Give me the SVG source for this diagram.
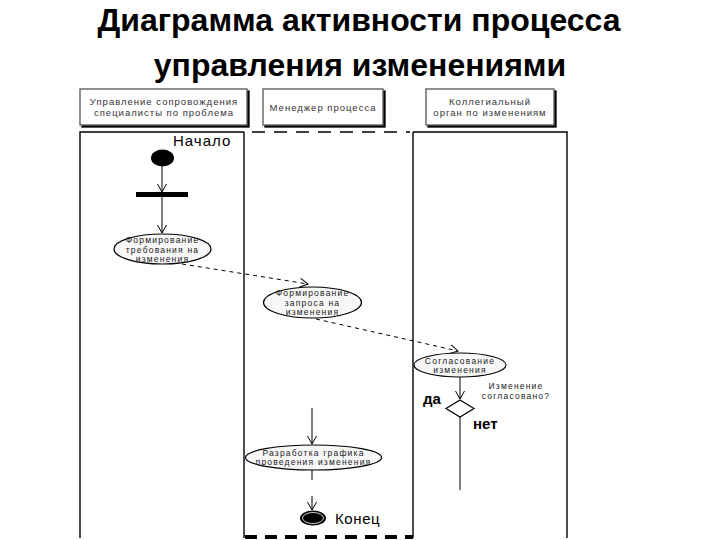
<svg xmlns="http://www.w3.org/2000/svg" width="720" height="540" viewBox="0 0 720 540">
<defs>
<marker id="arr" viewBox="-10 -6 12 12" refX="0" refY="0" markerWidth="12" markerHeight="12" markerUnits="userSpaceOnUse" orient="auto">
<path d="M-8,-4.5 L0,0 L-8,4.5" fill="none" stroke="#000" stroke-width="1"/>
</marker>
<filter id="sh" x="-5%" y="-5%" width="115%" height="125%">
<feOffset dx="1.5" dy="1.5" in="SourceAlpha" result="o"/>
<feGaussianBlur in="o" stdDeviation="0.6" result="b"/>
<feMerge><feMergeNode in="b"/><feMergeNode in="SourceGraphic"/></feMerge>
</filter>
</defs>
<style>
.title{font-family:"Liberation Sans",Arial,sans-serif;font-weight:bold;font-size:32px;fill:#000;text-anchor:middle}
.hdr{font-family:"Liberation Sans",Arial,sans-serif;font-size:9.5px;letter-spacing:1px;fill:#333;text-anchor:middle}
.hbox{fill:#fff;stroke:#555;stroke-width:1.3}
.lane{stroke:#000;stroke-width:1.4;fill:none}
.act{fill:#f7f7f7;stroke:#000;stroke-width:1.2}
.at{font-family:"Liberation Sans",Arial,sans-serif;font-size:8.5px;letter-spacing:1.2px;fill:#222;text-anchor:middle}
.lbl{font-family:"Liberation Sans",Arial,sans-serif;font-size:15px;fill:#000}
.flow{stroke:#000;stroke-width:1;fill:none}
.dash{stroke:#000;stroke-width:1;fill:none;stroke-dasharray:4,4}
</style>
<rect width="720" height="540" fill="#fff"/>
<text class="title" x="359" y="31">Диаграмма активности процесса</text>
<text class="title" x="360" y="76">управления изменениями</text>

<g id="header-1">
<rect class="hbox" x="80" y="89" width="167" height="36" filter="url(#sh)"/>
<text class="hdr" x="164" y="104.5">Управление сопровождения</text>
<text class="hdr" x="164" y="115.5">специалисты по проблема</text>
</g>
<g id="header-2">
<rect class="hbox" x="263" y="89" width="120" height="36" filter="url(#sh)"/>
<text class="hdr" x="323" y="111">Менеджер процесса</text>
</g>
<g id="header-3">
<rect class="hbox" x="426" y="89" width="128" height="36" filter="url(#sh)"/>
<text class="hdr" x="490" y="104.5">Коллегиальный</text>
<text class="hdr" x="490" y="115.5">орган по изменениям</text>
</g>

<g id="lanes">
<path class="lane" d="M80,538 L80,132 L244,132"/>
<path class="lane" d="M252,132 L410,132" stroke-dasharray="13,9"/>
<path class="lane" d="M413,132 L567,132 L567,538"/>
<line class="lane" x1="244" y1="132" x2="244" y2="538"/>
<line class="lane" x1="413" y1="132" x2="413" y2="538" stroke-width="2"/>
<line x1="245" y1="537" x2="413" y2="537" stroke="#000" stroke-width="4" stroke-dasharray="12,8"/>
</g>

<g id="connectors">
<line class="flow" x1="162" y1="166" x2="162" y2="192" marker-end="url(#arr)"/>
<line class="flow" x1="162" y1="197" x2="162" y2="233" marker-end="url(#arr)"/>
<line class="dash" x1="182" y1="264" x2="308" y2="284" marker-end="url(#arr)"/>
<line class="dash" x1="316" y1="319" x2="458" y2="351" marker-end="url(#arr)"/>
<line class="flow" x1="460" y1="377" x2="460" y2="399" marker-end="url(#arr)"/>
<line class="flow" x1="460" y1="417" x2="460" y2="490"/>
<line class="flow" x1="312" y1="408" x2="312" y2="444" marker-end="url(#arr)"/>
<line class="flow" x1="312" y1="470" x2="312" y2="480"/>
<line class="flow" x1="312" y1="496" x2="312" y2="510" marker-end="url(#arr)"/>
</g>

<g id="start">
<ellipse cx="162.5" cy="158" rx="11.5" ry="8.5" fill="#000"/>
<text class="lbl" x="173" y="146" letter-spacing="1">Начало</text>
</g>
<g id="fork">
<rect x="136" y="192" width="52" height="5" fill="#000"/>
</g>
<g id="act-1">
<ellipse class="act" cx="162.5" cy="249" rx="48.5" ry="15"/>
<text class="at" x="162.5" y="243">Формирование</text>
<text class="at" x="162.5" y="252.6">требования на</text>
<text class="at" x="162.5" y="262.2">изменения</text>
</g>
<g id="act-2">
<ellipse class="act" cx="312.5" cy="302.5" rx="49" ry="15.5"/>
<text class="at" x="312.5" y="296">Формирование</text>
<text class="at" x="312.5" y="305.6">запроса на</text>
<text class="at" x="312.5" y="315.2">изменения</text>
</g>
<g id="act-3">
<ellipse class="act" cx="460" cy="365" rx="46" ry="12"/>
<text class="at" x="460" y="363.5">Согласование</text>
<text class="at" x="460" y="373.1">изменения</text>
</g>
<g id="decision">
<polygon points="460,400 474,408.5 460,417 446,408.5" fill="#fff" stroke="#000" stroke-width="1.2"/>
<text class="at" x="516" y="389">Изменение</text>
<text class="at" x="516" y="398.6">согласовано?</text>
<text class="lbl" x="423" y="404" font-weight="bold" font-size="13">да</text>
<text class="lbl" x="473" y="429" font-weight="bold" font-size="13">нет</text>
</g>
<g id="act-4">
<ellipse class="act" cx="313.5" cy="457.5" rx="68" ry="12.5"/>
<text class="at" x="313.5" y="455.5">Разработка графика</text>
<text class="at" x="313.5" y="465.1">проведения изменения</text>
</g>
<g id="end">
<ellipse cx="313" cy="518" rx="13" ry="7.5" fill="#000"/>
<ellipse cx="313" cy="518" rx="10.5" ry="5.5" fill="none" stroke="#fff" stroke-width="0.8"/>
<text class="lbl" x="335" y="524" letter-spacing="0.6">Конец</text>
</g>
</svg>
